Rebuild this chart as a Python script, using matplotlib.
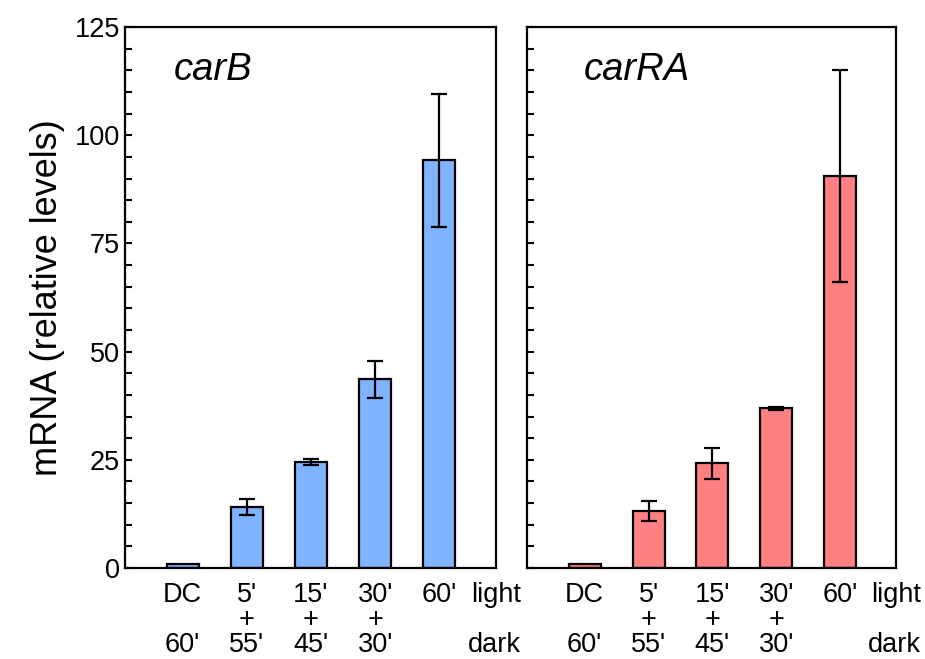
import numpy as np
import matplotlib.pyplot as plt
from matplotlib.ticker import MultipleLocator
import matplotlib.transforms as mtransforms

plt.rcParams['font.family'] = ['Liberation Sans', 'DejaVu Sans']

# data
light = ["DC", "5'", "15'", "30'", "60'"]
plus = ["", "+", "+", "+", ""]
dark = ["60'", "55'", "45'", "30'", ""]

carB = [1.0, 14.1, 24.5, 43.6, 94.2]
carB_err = [0, 1.8, 0.7, 4.35, 15.4]
carRA = [1.0, 13.2, 24.2, 36.9, 90.6]
carRA_err = [0, 2.3, 3.6, 0.3, 24.4]

fig = plt.figure(figsize=(9.25, 6.59), dpi=100)
ax1 = fig.add_axes([0.135, 0.138, 0.401, 0.821])
ax2 = fig.add_axes([0.570, 0.138, 0.399, 0.821])

panels = [(ax1, carB, carB_err, '#80b3ff', 'carB', 0.132),
          (ax2, carRA, carRA_err, '#ff8080', 'carRA', 0.152)]

x = np.arange(len(light))
for ax, vals, err, col, name, tx in panels:
    ax.bar(x, vals, width=0.5, color=col, edgecolor='black', linewidth=1.6, zorder=2)
    ax.errorbar(x[1:], vals[1:], yerr=err[1:], fmt='none', ecolor='black',
                elinewidth=1.6, capsize=6, capthick=1.6, zorder=3)
    ax.set_xlim(-0.9, 4.88)
    ax.set_ylim(0, 125)
    ax.yaxis.set_major_locator(MultipleLocator(25))
    ax.yaxis.set_minor_locator(MultipleLocator(5))
    ax.tick_params(axis='y', which='both', direction='in', width=1.5, labelsize=19.5)
    ax.tick_params(axis='y', which='major', length=5)
    ax.tick_params(axis='y', which='minor', length=5)
    ax.set_xticks([])
    for s in ax.spines.values():
        s.set_linewidth(1.6)
    ax.text(tx, 0.92, name, transform=ax.transAxes, fontsize=27.5,
            style='italic', ha='left', va='center')

    trans = mtransforms.blended_transform_factory(ax.transData, ax.transAxes)
    for i in range(len(light)):
        ax.text(x[i], -0.05, light[i], transform=trans, ha='center', va='center', fontsize=19.5)
        ax.text(x[i], -0.096, plus[i], transform=trans, ha='center', va='center', fontsize=19.5)
        ax.text(x[i], -0.142, dark[i], transform=trans, ha='center', va='center', fontsize=19.5)
    ax.text(5.27, -0.05, 'light', transform=trans, ha='right', va='center', fontsize=19.5)
    ax.text(5.27, -0.142, 'dark', transform=trans, ha='right', va='center', fontsize=19.5)

ax2.set_yticklabels([])
ax1.set_ylabel('mRNA (relative levels)', fontsize=26, labelpad=7)

fig.savefig('out.png', dpi=100)
